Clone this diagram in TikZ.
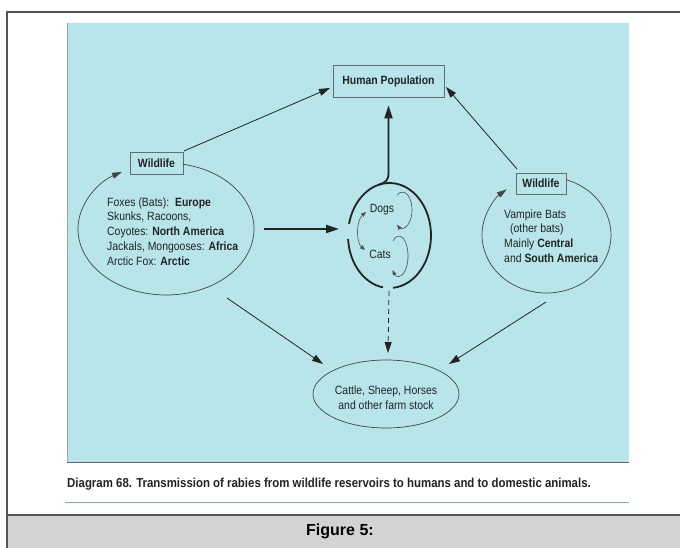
\documentclass[tikz,border=0pt]{standalone}
\usepackage{fontspec}
\usetikzlibrary{arrows.meta,shapes.geometric,calc}
\setmainfont{Liberation Sans}
\newfontfamily\nf[FakeStretch=0.87]{Liberation Sans}
\newfontfamily\cf[FakeStretch=0.88]{Liberation Sans}
\definecolor{panel}{RGB}{183,229,234}
\definecolor{ink}{RGB}{35,35,35}
\definecolor{boxline}{RGB}{100,110,112}
\definecolor{framegray}{RGB}{85,85,85}
\definecolor{figgray}{RGB}{211,211,211}
\definecolor{capblue}{RGB}{120,170,215}
\begin{document}
\begin{tikzpicture}[x=1pt,y=1pt,
  lbl/.style={font=\nf\fontsize{12}{14.8}\selectfont, text=ink, inner sep=0pt},
  wbox/.style={draw=boxline, line width=0.8pt, font=\nf\bfseries\fontsize{12}{14}\selectfont, text=ink, inner sep=0pt},
  thinarrow/.style={draw=ink, line width=0.8pt, -{Triangle[length=11pt,width=7pt]}},
  thickarrow/.style={draw=ink, line width=2pt, -{Triangle[length=13pt,width=8pt]}},
  loopline/.style={draw=ink!80, line width=0.6pt},
  smalltip/.style={-{Triangle[length=5pt,width=4pt]}},
  ringline/.style={draw=ink, line width=1.8pt},
  ellline/.style={draw=ink!85, line width=0.7pt}]
\useasboundingbox (0,0) rectangle (680,-548);
\fill[white] (0,0) rectangle (680,-548);
\fill[figgray] (7,-515) rectangle (680,-548);
\draw[framegray, line width=1.5pt] (680,-12) -- (7,-12) -- (7,-548);
\draw[framegray, line width=1.5pt] (7,-515) -- (680,-515);
% panel
\fill[panel] (67,-23) rectangle (629,-463);
\draw[gray!70, line width=1pt] (67.5,-23) -- (67.5,-463);
\draw[ink!70, line width=1pt] (67,-462.5) -- (629,-462.5);
\draw[capblue, line width=1.5pt] (65,-502.5) -- (629,-502.5);
\node[anchor=west, font=\cf\bfseries\fontsize{13}{15}\selectfont, text=ink, inner sep=0pt] (caption) at (67,-484) {Diagram 68. Transmission of rabies from wildlife reservoirs to humans and to domestic animals.};
\node[font=\bfseries\fontsize{16}{18}\selectfont, text=black] (fig) at (340,-531) {Figure 5:};
% boxes
\node[wbox, minimum width=111pt, minimum height=32pt] (human) at (388.5,-81) {Human Population};
\node[wbox, minimum width=53pt, minimum height=22pt] (wl) at (156.5,-163) {Wildlife};
\node[wbox, minimum width=50pt, minimum height=21pt] (wr) at (541,-183.5) {Wildlife};
% left wildlife cycle
\coordinate (lec) at (166,-229);
\draw[ellline, -{Triangle[length=10pt,width=6pt]}] ($(lec)+(79:88 and 66)$) arc[start angle=79, end angle=-240, x radius=88, y radius=66];
\node[lbl, align=left, anchor=west] (ltext) at (107,-231.5) {Foxes (Bats):\ \ \textbf{Europe}\\Skunks, Racoons,\\Coyotes: \textbf{North America}\\Jackals, Mongooses: \textbf{Africa}\\Arctic Fox: \textbf{Arctic}};
% right wildlife cycle
\coordinate (rec) at (546.5,-235);
\draw[ellline, -{Triangle[length=10pt,width=6pt]}] ($(rec)+(72:64.5 and 58)$) arc[start angle=72, end angle=-232, x radius=64.5, y radius=58];
\node[lbl, align=left, anchor=west] (rtext) at (504,-236) {Vampire Bats\\\hspace*{6pt}(other bats)\\Mainly \textbf{Central}\\and \textbf{South America}};
% domestic ring
\coordinate (dc) at (389.5,-235.5);
\draw[ringline] ($(dc)+(184:41.5 and 52.5)$) arc[start angle=184, end angle=261, x radius=41.5, y radius=52.5];
\draw[ringline] ($(dc)+(-85:41.5 and 52.5)$) arc[start angle=-85, end angle=167, x radius=41.5, y radius=52.5];
\coordinate (jn) at ($(dc)+(106:41.5 and 52.5)$);
\draw[ringline, -{Triangle[length=13pt,width=8pt]}, shorten >=8pt] (jn) .. controls ($(jn)+(8,3)$) and (388.5,-181) .. (388.5,-172) -- (human.south);
\node[lbl] (dogs) at (382,-210) {Dogs};
\node[lbl] (cats) at (380,-254) {Cats};
\draw[loopline, smalltip] ($(402.5,-210)+(125:9.5 and 18)$) arc[start angle=125, end angle=-125, x radius=9.5, y radius=18];
\draw[loopline, smalltip] ($(399,-256)+(130:9 and 20)$) arc[start angle=130, end angle=-135, x radius=9, y radius=20];
\coordinate (da) at (366,-212);
\coordinate (ca) at (365,-250);
\draw[loopline, {Triangle[length=5pt,width=4pt]}-{Triangle[length=5pt,width=4pt]}] (da) .. controls (356,-221) and (356,-242) .. (ca);
% farm
\node[ellipse, draw=ink!85, line width=0.7pt, minimum width=146pt, minimum height=68pt] (farm) at (386,-394) {};
\node[lbl, align=center] (farmtxt) at (386,-398) {Cattle, Sheep, Horses\\and other farm stock};
% connectors
\coordinate (lws) at (184,-151);
\coordinate (lwt) at (330,-88);
\coordinate (rws) at (517,-169);
\coordinate (rwt) at (446,-87);
\draw[thinarrow] (lws) -- (lwt);
\draw[thinarrow] (rws) -- (rwt);
\coordinate (hs) at (264,-229);
\coordinate (ht) at (339,-229);
\draw[thickarrow] (hs) -- (ht);
\coordinate (rb) at (389,-291);
\coordinate (dft) at (388,-353);
\draw[thinarrow, dash pattern=on 5pt off 4pt] (rb) -- (dft);
\coordinate (lfs) at (227,-298);
\coordinate (lft) at (323,-364);
\coordinate (rfs) at (546,-302);
\coordinate (rft) at (449,-364);
\draw[thinarrow] (lfs) -- (lft);
\draw[thinarrow] (rfs) -- (rft);
\end{tikzpicture}
\end{document}
